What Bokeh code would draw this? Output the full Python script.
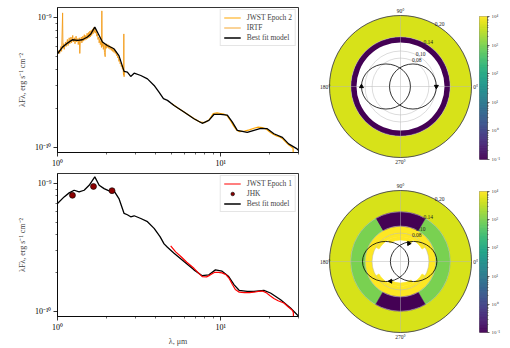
import numpy as np
from bokeh.plotting import figure
from bokeh.layouts import row, column
from bokeh.models import (ColumnDataSource, FixedTicker, Legend, LegendItem, Range1d,
                          LogColorMapper, Label)
from bokeh.palettes import Viridis256
from bokeh.transform import transform
from bokeh.core.properties import value
from bokeh.embed import file_html
from bokeh.resources import INLINE

FONT = "Liberation Serif"
UNIT = 1e-10  # flux values below are in units of 1e-10 erg s^-1 cm^-2

# ---------------- top SED panel ----------------
model2_x = [1.0, 1.073, 1.151, 1.235, 1.326, 1.42, 1.526, 1.6, 1.693, 1.8,
            1.886, 2.02, 2.22, 2.38, 2.56, 2.68, 2.81, 2.95, 3.24, 3.56,
            3.91, 4.19, 4.46, 4.72, 5.18, 5.96, 6.86, 7.71, 8.47, 9.09,
            10.0, 10.99, 11.8, 12.65, 14.55, 16.0, 17.6, 19.3, 21.2, 23.9,
            26.1, 29.4, 30.5]
model2_y = [5.27, 5.93, 6.37, 6.76, 6.68, 6.76, 7.1, 7.5, 8.47, 7.3,
            6.5, 6.1, 5.76, 5.1, 3.85, 3.8, 3.52, 3.73, 3.58, 3.37,
            3.0, 2.66, 2.37, 2.3, 2.1, 1.87, 1.66, 1.53, 1.61, 1.79,
            1.79, 1.77, 1.56, 1.35, 1.3, 1.35, 1.4, 1.39, 1.27, 1.19,
            1.06, 0.97, 0.92]

irtf_x = [1.00, 1.02, 1.03, 1.05, 1.06, 1.075, 1.08, 1.09, 1.10, 1.12,
          1.13, 1.15, 1.16, 1.18, 1.19, 1.21, 1.22, 1.24, 1.25, 1.27,
          1.28, 1.30, 1.31, 1.33, 1.34, 1.36, 1.37, 1.38, 1.40, 1.41,
          1.43, 1.44, 1.46, 1.47, 1.49, 1.50, 1.52, 1.53, 1.55, 1.56,
          1.58, 1.59, 1.61, 1.62, 1.64, 1.65, 1.67, 1.68, 1.70, 1.71,
          1.73, 1.74, 1.76, 1.77, 1.79, 1.80, 1.82, 1.83, 1.85, 1.86,
          1.87, 1.88, 1.90, 1.91, 1.93, 1.94, 1.96, 1.97, 1.99, 2.00,
          2.02, 2.04, 2.06, 2.08, 2.10, 2.12, 2.14, 2.16, 2.18, 2.20,
          2.22, 2.24, 2.26, 2.28, 2.30, 2.32, 2.34, 2.36, 2.38, 2.40,
          2.42, 2.44, 2.46, 2.48, 2.50, 2.52, 2.54, 2.55, 2.56, 2.57]
irtf_y = [5.2, 5.6, 5.3, 6.0, 5.5, 10.9, 5.8, 6.3, 5.7, 6.5,
          6.0, 6.8, 6.1, 7.0, 6.3, 7.1, 6.4, 7.3, 6.5, 7.0,
          6.3, 7.2, 6.5, 6.9, 6.2, 7.0, 5.3, 6.6, 7.1, 6.4,
          7.2, 6.6, 7.4, 6.7, 7.3, 6.8, 7.6, 6.9, 7.7, 7.0,
          7.9, 7.1, 8.0, 7.3, 8.2, 7.5, 8.4, 7.7, 8.3, 7.6,
          7.9, 7.2, 7.5, 6.8, 7.1, 6.4, 6.9, 6.2, 6.6, 5.9,
          11.3, 6.0, 6.5, 5.7, 6.3, 5.4, 5.0, 6.2, 5.8, 6.3,
          5.9, 6.2, 5.8, 6.1, 5.7, 6.0, 5.6, 5.9, 5.5, 5.8,
          5.4, 5.7, 5.3, 5.5, 5.1, 5.3, 4.9, 5.0, 4.6, 4.8,
          4.4, 4.5, 4.2, 4.3, 4.0, 4.1, 3.6, 7.5, 3.5, 3.9]

jwst2_x = [5.0, 5.5, 6.0, 6.5, 7.0, 7.5, 8.0, 8.5, 9.0, 9.5,
           10.0, 10.5, 11.0, 11.5, 12.0, 12.5, 13.0, 14.0, 15.0, 16.0,
           17.0, 18.0, 19.0, 20.0, 21.0, 22.0, 23.0, 24.0, 25.0, 26.0,
           27.0, 27.8, 27.9]
jwst2_y = [2.18, 2.0, 1.86, 1.74, 1.64, 1.56, 1.55, 1.63, 1.82, 1.84,
           1.82, 1.80, 1.74, 1.60, 1.46, 1.36, 1.32, 1.33, 1.36, 1.40,
           1.43, 1.42, 1.38, 1.31, 1.26, 1.22, 1.20, 1.16, 1.10, 1.05,
           1.01, 0.98, 0.8]

# ---------------- bottom SED panel ----------------
model1_x = [1.0, 1.098, 1.179, 1.265, 1.357, 1.456, 1.563, 1.693, 1.8, 1.93,
            2.07, 2.22, 2.38, 2.56, 2.68, 2.81, 2.95, 3.24, 3.56, 3.91,
            4.25, 4.5, 4.72, 5.18, 5.96, 6.86, 7.71, 8.47, 9.29, 10.2,
            11.2, 12.1, 12.97, 14.55, 16.0, 18.4, 20.2, 23.3, 26.8, 30.1]
model1_y = [6.99, 7.87, 8.46, 8.87, 8.61, 8.87, 9.7, 11.3, 9.7, 9.14,
            8.77, 8.77, 7.64, 5.84, 5.7, 5.5, 5.6, 5.33, 5.03, 4.46,
            3.84, 3.37, 3.17, 2.85, 2.45, 2.11, 1.9, 1.93, 2.11, 2.06,
            1.87, 1.61, 1.46, 1.43, 1.43, 1.46, 1.39, 1.23, 1.06, 0.913]

jwst1_x = [4.94, 5.3, 5.68, 6.2, 6.86, 7.3, 7.71, 8.2, 8.6, 9.2,
           9.7, 10.2, 10.8, 11.3, 11.8, 12.3, 13.0, 14.0, 15.0, 16.0,
           17.0, 18.0, 19.0, 20.0, 21.2, 22.5, 24.4, 26.0, 27.5, 27.9,
           27.95]
jwst1_y = [3.25, 2.92, 2.7, 2.42, 2.17, 2.0, 1.87, 1.86, 1.92, 2.02,
           2.02, 2.0, 1.93, 1.8, 1.62, 1.48, 1.41, 1.40, 1.40, 1.41,
           1.43, 1.44, 1.40, 1.33, 1.26, 1.21, 1.16, 1.08, 1.02, 0.98,
           0.8]

jhk_x = [1.235, 1.662, 2.159]
jhk_y = [8.1, 9.5, 8.8]

# axes ticks
x_major = [1, 10]
x_minor = [2, 3, 4, 5, 6, 7, 8, 9, 20, 30]
x_labels = {1: "10⁰", 10: "10¹"}
y_major = [1e-10, 1e-9]
y_minor = [2e-10, 3e-10, 4e-10, 5e-10, 6e-10, 7e-10, 8e-10, 9e-10]
y_labels = {1e-10: "10⁻¹⁰", 1e-9: "10⁻⁹"}

# ---------------- disk maps (polar) ----------------
SIG_LOW, SIG_HIGH = 0.1, 1e4
cb_ticks = [0.1, 1, 10, 100, 1000, 10000]
cb_labels = {0.1: "10⁻¹", 1: "10⁰", 10: "10¹", 100: "10²", 1000: "10³", 10000: "10⁴"}
cb_minor = [m * d for d in [0.1, 1, 10, 100, 1000] for m in range(2, 10)]

R_MAX = 0.20
r_ticks = [0.08, 0.10, 0.14, 0.20]
r_tick_labels = ["0.08", "0.10", "0.14", "0.20"]
theta_ticks = [0, 90, 180, 270]
theta_labels = ["0°", "90°", "180°", "270°"]
RLABEL_ANGLE = 57.5

# epoch 2 (top): full rings
top_ring_r0 = [0.124, 0.14]
top_ring_r1 = [0.14, 0.20]
top_ring_sig = [0.1, 5000]
top_orb_x = [-0.041, 0.035]
top_orb_w = [0.138, 0.132]
top_orb_h = [0.127, 0.127]
top_star_x = [-0.110, 0.101]
top_star_y = [0.0, 0.0]
top_star_ang = [0, 180]

# epoch 1 (bottom)
bot_ring_r0 = [0.08, 0.14]
bot_ring_r1 = [0.10, 0.20]
bot_ring_sig = [1e4, 5000]
bot_sec_r0 = [0.10, 0.10, 0.10, 0.10, 0.07, 0.07, 0.06, 0.06]
bot_sec_r1 = [0.14, 0.14, 0.14, 0.14, 0.08, 0.08, 0.07, 0.07]
bot_sec_a0 = [-60, 60, 120, 240, 30, 210, 60, 240]
bot_sec_a1 = [60, 120, 240, 300, 150, 330, 120, 300]
bot_sec_sig = [1000, 0.1, 1000, 0.1, 1e4, 1e4, 1e4, 1e4]
bot_orb_x = [-0.042, 0.037]
bot_orb_w = [0.130, 0.131]
bot_orb_h = [0.113, 0.113]
bot_star_x = [0.0235, -0.028]
bot_star_y = [0.0507, -0.0555]
bot_star_ang = [-90, 90]

mapper = LogColorMapper(palette=Viridis256, low=SIG_LOW, high=SIG_HIGH)


def scaled(v):
    return [a * UNIT for a in v]


def style_axes(p):
    for ax in (p.xaxis, p.yaxis):
        ax.major_label_text_font = FONT
        ax.major_label_text_font_size = "8px"
        ax.major_label_text_color = "black"
        ax.axis_label_text_font = FONT
        ax.axis_label_text_font_size = "8px"
        ax.axis_label_text_font_style = "normal"
        ax.major_tick_in = 0
        ax.major_tick_out = 4
        ax.minor_tick_in = 0
        ax.minor_tick_out = 2
        ax.major_label_standoff = 2
        ax.axis_line_color = "black"
        ax.axis_line_width = 0.8
        ax.major_tick_line_width = 0.8
        ax.minor_tick_line_width = 0.6


def sed_fig(h, btop, bbot, xlabel):
    p = figure(width=300, height=h, x_axis_type="log", y_axis_type="log",
               x_range=Range1d(1, 30), y_range=Range1d(9.1e-11, 1.2e-9),
               output_backend="svg", toolbar_location=None, frame_align=False,
               min_border_left=57, min_border_right=2,
               min_border_top=btop, min_border_bottom=bbot)
    p.title = None
    p.grid.visible = False
    p.outline_line_color = "black"
    p.outline_line_width = 0.8
    p.xaxis.ticker = FixedTicker(ticks=x_major, minor_ticks=x_minor)
    p.xaxis.major_label_overrides = x_labels
    p.yaxis.ticker = FixedTicker(ticks=y_major, minor_ticks=y_minor)
    p.yaxis.major_label_overrides = y_labels
    p.yaxis.axis_label = "λFλ, erg s⁻¹ cm⁻²"
    p.yaxis.axis_label_standoff = 5
    if xlabel:
        p.xaxis.axis_label = xlabel
        p.xaxis.axis_label_standoff = 2
    style_axes(p)
    return p


def style_legend(lg):
    lg.location = "top_right"
    lg.label_text_font = FONT
    lg.label_text_font_size = "7.5px"
    lg.glyph_width = 17
    lg.glyph_height = 9
    lg.label_height = 9
    lg.label_standoff = 6
    lg.spacing = 1
    lg.padding = 3
    lg.margin = 2
    lg.border_line_color = "#cccccc"
    lg.border_line_width = 0.8
    lg.background_fill_alpha = 0.85


# ---- top left
p1 = sed_fig(170, 7, 18, None)
r_j2 = p1.line(jwst2_x, scaled(jwst2_y), line_color="#ffa500", line_width=1.2)
r_ir = p1.line(irtf_x, scaled(irtf_y), line_color="#f39c1a", line_width=0.9)
r_m2 = p1.line(model2_x, scaled(model2_y), line_color="black", line_width=1.3)
lg1 = Legend(items=[LegendItem(label="JWST Epoch 2", renderers=[r_j2]),
                    LegendItem(label="IRTF", renderers=[r_ir]),
                    LegendItem(label="Best fit model", renderers=[r_m2])])
style_legend(lg1)
p1.add_layout(lg1)

# ---- bottom left
p2 = sed_fig(178, 3, 31, "λ, μm")
r_m1 = p2.line(model1_x, scaled(model1_y), line_color="black", line_width=1.3)
r_j1 = p2.line(jwst1_x, scaled(jwst1_y), line_color="red", line_width=1.2)
r_jhk = p2.scatter(jhk_x, scaled(jhk_y), size=6, fill_color="#8b0000",
                   line_color="black", line_width=0.6)
lg2 = Legend(items=[LegendItem(label="JWST Epoch 1", renderers=[r_j1]),
                    LegendItem(label="JHK", renderers=[r_jhk]),
                    LegendItem(label="Best fit model", renderers=[r_m1])])
style_legend(lg2)
p2.add_layout(lg2)

# ---- polar maps
PX = 355.0  # pixels per radial unit


def polar_fig(h, cy, rings, sectors, orbits, stars):
    p = figure(width=178, height=h,
               x_range=Range1d(-100 / PX, 78 / PX),
               y_range=Range1d(-(h - cy) / PX, cy / PX),
               x_axis_location=None, y_axis_location=None, frame_align=False,
               output_backend="svg", toolbar_location=None, min_border=0)
    p.title = None
    p.grid.visible = False
    p.outline_line_color = None
    r0, r1, sg = rings
    p.annulus(x=0, y=0, inner_radius="r0", outer_radius="r1",
              fill_color=transform("sigma", mapper), line_color=None,
              source=ColumnDataSource(dict(r0=r0, r1=r1, sigma=sg)))
    if sectors is not None:
        s0, s1, a0, a1, ss = sectors
        p.annular_wedge(x=0, y=0, inner_radius="r0", outer_radius="r1",
                        start_angle="a0", end_angle="a1",
                        fill_color=transform("sigma", mapper),
                        line_color=transform("sigma", mapper), line_width=0.5,
                        source=ColumnDataSource(dict(
                            r0=s0, r1=s1, sigma=ss,
                            a0=list(np.radians(a0)), a1=list(np.radians(a1)))))
    # grid
    p.circle(x=[0] * len(r_ticks), y=[0] * len(r_ticks), radius=r_ticks,
             fill_color=None, line_color="#b5b5b5", line_width=0.6, line_alpha=0.8)
    th = np.radians(theta_ticks)
    p.segment(x0=[0] * len(th), y0=[0] * len(th),
              x1=list(R_MAX * np.cos(th)), y1=list(R_MAX * np.sin(th)),
              line_color="#b5b5b5", line_width=0.6, line_alpha=0.8)
    p.circle(x=[0], y=[0], radius=[R_MAX], fill_color=None,
             line_color="#222222", line_width=0.7)
    # orbits
    ox, ow, oh = orbits
    p.ellipse(x=ox, y=[0] * len(ox), width=ow, height=oh, fill_color=None,
              line_color="black", line_width=0.8)
    sx, sy, sa = stars
    p.scatter(x=sx, y=sy, marker="triangle", size=4, angle=list(np.radians(sa)),
              fill_color="black", line_color="black")
    # labels
    lr = R_MAX * 1.06
    p.text(x=list(lr * np.cos(th)), y=list(lr * np.sin(th)), text=theta_labels,
           text_font=value(FONT), text_font_size="5.5px", text_align="center",
           text_baseline="middle", text_color="#222222")
    ra = np.radians(RLABEL_ANGLE)
    rt = np.array(r_ticks)
    p.text(x=list(rt * np.cos(ra)), y=list(rt * np.sin(ra)), text=r_tick_labels,
           text_font=value(FONT), text_font_size="5.5px", text_align="center",
           text_baseline="middle", x_offset=1, y_offset=-3, text_color="#222222")
    return p


def cbar_fig(h, btop, bbot):
    p = figure(width=32, height=h, y_axis_type="log", x_range=Range1d(0, 1),
               y_range=Range1d(SIG_LOW, SIG_HIGH), x_axis_location=None,
               y_axis_location="right", output_backend="svg", toolbar_location=None,
               frame_align=False,
               min_border_left=1, min_border_right=23, min_border_top=btop,
               min_border_bottom=bbot)
    p.title = None
    p.grid.visible = False
    p.outline_line_color = "#555555"
    p.outline_line_width = 0.6
    n = len(Viridis256)
    edges = np.logspace(np.log10(SIG_LOW), np.log10(SIG_HIGH), n + 1)
    p.quad(left=0, right=1, bottom=list(edges[:-1]), top=list(edges[1:]),
           fill_color=list(Viridis256), line_color=list(Viridis256), line_width=0.4)
    ax = p.yaxis
    ax.ticker = FixedTicker(ticks=cb_ticks, minor_ticks=cb_minor)
    ax.major_label_overrides = cb_labels
    ax.major_label_text_font = FONT
    ax.major_label_text_font_size = "5px"
    ax.major_tick_in = 0
    ax.major_tick_out = 2
    ax.minor_tick_in = 0
    ax.minor_tick_out = 1
    ax.major_label_standoff = 2
    ax.axis_line_color = "#555555"
    ax.axis_line_width = 0.6
    ax.major_tick_line_width = 0.6
    ax.minor_tick_line_width = 0.4
    p.add_layout(Label(x=2.875, y=np.sqrt(SIG_LOW * SIG_HIGH), text="Σ, g/cm²",
                       angle=np.pi / 2, text_font=FONT, text_font_size="5px",
                       text_align="center", text_baseline="middle"))
    return p


p3 = polar_fig(170, 86, (top_ring_r0, top_ring_r1, top_ring_sig), None,
               (top_orb_x, top_orb_w, top_orb_h),
               (top_star_x, top_star_y, top_star_ang))
c3 = cbar_fig(170, 16, 11)

p4 = polar_fig(178, 91, (bot_ring_r0, bot_ring_r1, bot_ring_sig),
               (bot_sec_r0, bot_sec_r1, bot_sec_a0, bot_sec_a1, bot_sec_sig),
               (bot_orb_x, bot_orb_w, bot_orb_h),
               (bot_star_x, bot_star_y, bot_star_ang))
c4 = cbar_fig(178, 21, 16)

layout = column(row(p1, p3, c3), row(p2, p4, c4))
open("out.html", "w").write(file_html(layout, INLINE))
